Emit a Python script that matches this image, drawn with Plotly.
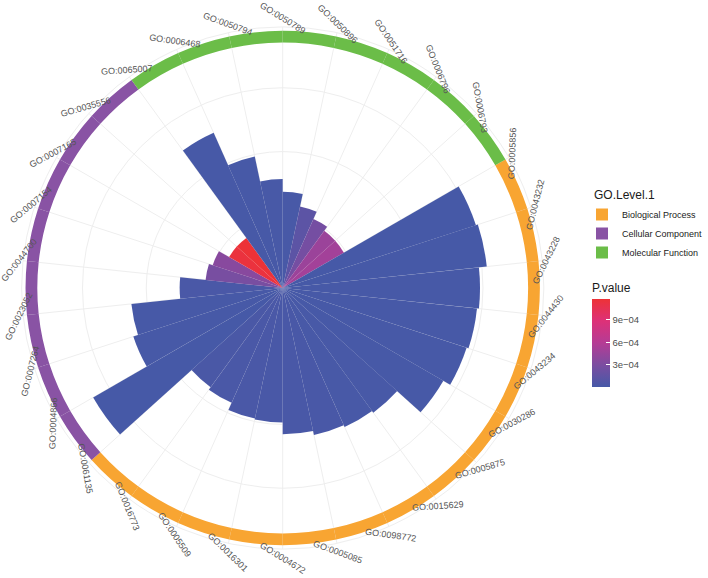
import math
import plotly.graph_objects as go

# GO terms around the circle, clockwise from 12 o'clock
go_terms = ["GO:0050789", "GO:0050896", "GO:0051716", "GO:0006796", "GO:0006793",
            "GO:0005856", "GO:0043232", "GO:0043228", "GO:0044430", "GO:0043234",
            "GO:0030286", "GO:0005875", "GO:0015629", "GO:0098772", "GO:0005085",
            "GO:0004672", "GO:0016301", "GO:0005509", "GO:0016773", "GO:0061135",
            "GO:0004866", "GO:0007264", "GO:0023052", "GO:0044700", "GO:0007154",
            "GO:0007165", "GO:0035556", "GO:0065007", "GO:0006468", "GO:0050794"]

go_level = (["Molecular Function"] * 5 + ["Biological Process"] * 14
            + ["Cellular Component"] * 8 + ["Molecular Function"] * 3)

bar_len = [98, 85, 77, 72, 72, 207, 209, 201, 199, 197,
           189, 157, 155, 153, 149, 137, 136, 128, 125, 223,
           160, 155, 105, 79, 75, 63, 63, 173, 137, 111]

p_value = [1.0e-5, 1.2e-4, 2.6e-4, 4.6e-4, 5.0e-4, 2.0e-6, 1.0e-6, 3.0e-6, 4.0e-6, 5.0e-6,
           8.0e-6, 1.0e-5, 1.2e-5, 1.5e-5, 1.6e-5, 1.8e-5, 2.0e-5, 2.2e-5, 2.5e-5, 1.0e-6,
           3.0e-6, 6.0e-6, 2.0e-5, 2.8e-4, 3.6e-4, 1.15e-3, 1.18e-3, 4.0e-6, 8.0e-6, 1.2e-5]

levels = ["Biological Process", "Cellular Component", "Molecular Function"]
level_colors = {"Biological Process": "#F8A532",
                "Cellular Component": "#8953A4",
                "Molecular Function": "#6BBD48"}

p_ticks = [3e-4, 6e-4, 9e-4]
p_ticktext = ["3e\u221204", "6e\u221204", "9e\u221204"]

# geometry of the polar panel (pixels in a 708x578 page)
W, H = 708, 578
CX, CY, R_OUT = 288, 288, 266
STEP = 360 / len(go_terms)
RING_BASE, RING_W = 250, 12
R_LABEL = 270

thetas = [STEP * i + STEP / 2 for i in range(len(go_terms))]

fig = go.Figure()

fig.add_trace(go.Barpolar(
    r=bar_len, theta=thetas, width=[STEP] * len(go_terms),
    marker=dict(color=p_value, cmin=0, cmax=1.18e-3,
                colorscale=[[0, "#4659A7"], [0.25, "#7B4DA1"], [0.5, "#B53C95"],
                            [0.75, "#DD3178"], [1, "#ED3237"]],
                line=dict(width=0),
                colorbar=dict(title=dict(text="P.value", side="top",
                                         font=dict(size=12, color="#1a1a1a")),
                              tickvals=p_ticks, ticktext=p_ticktext,
                              ticks="inside", tickcolor="white", ticklen=4,
                              tickfont=dict(size=9.5, color="#4d4d4d"),
                              outlinewidth=0, thickness=18,
                              lenmode="pixels", len=107,
                              x=603 / W, xanchor="left", xpad=0,
                              y=1 - 387 / H, yanchor="bottom", ypad=0)),
    text=go_terms, hovertemplate="%{text}<br>P=%{marker.color:.2e}<extra></extra>",
    showlegend=False))

for lv in levels:
    idx = [i for i, g in enumerate(go_level) if g == lv]
    fig.add_trace(go.Barpolar(
        r=[RING_W] * len(idx), base=[RING_BASE] * len(idx),
        theta=[thetas[i] for i in idx], width=[STEP] * len(idx),
        marker=dict(color=level_colors[lv], line=dict(width=0)),
        name=lv, legendgroup=lv,
        text=[go_terms[i] for i in idx], hovertemplate="%{text}<extra>" + lv + "</extra>"))

# rotated term labels around the rim
annotations = []
for i, term in enumerate(go_terms):
    th = STEP * i
    ccw = 148 - th
    while ccw < -90:
        ccw += 180
    while ccw >= 90:
        ccw -= 180
    xp = CX + R_LABEL * math.sin(math.radians(th))
    yp = CY - R_LABEL * math.cos(math.radians(th))
    annotations.append(dict(x=xp / W, y=1 - yp / H, xref="paper", yref="paper",
                            xanchor="center", yanchor="middle",
                            text=term, showarrow=False, textangle=-ccw,
                            font=dict(size=9, color="#555555")))

# legend title, aligned with the key boxes
annotations.append(dict(x=603 / W, y=1 - 195 / H, xref="paper", yref="paper",
                        xanchor="left", yanchor="middle", showarrow=False,
                        text="GO.Level.1", font=dict(size=12, color="#1a1a1a")))

fig.update_layout(
    width=W, height=H,
    margin=dict(l=0, r=0, t=0, b=0),
    paper_bgcolor="white",
    font=dict(family="Liberation Sans, Arial, sans-serif"),
    annotations=annotations,
    polar=dict(
        domain=dict(x=[(CX - R_OUT) / W, (CX + R_OUT) / W],
                    y=[1 - (CY + R_OUT) / H, 1 - (CY - R_OUT) / H]),
        bgcolor="white",
        radialaxis=dict(range=[0, R_OUT], tickvals=[74, 139, 204], showticklabels=False,
                        ticks="", showline=False, gridcolor="#eeeeee", gridwidth=1),
        angularaxis=dict(direction="clockwise", rotation=90, thetaunit="degrees",
                         tickvals=[STEP * i for i in range(len(go_terms))],
                         showticklabels=False, ticks="", gridcolor="#eeeeee",
                         showline=True, linecolor="#eeeeee", linewidth=1),
    ),
    legend=dict(x=593 / W, xanchor="left", y=1 - 200 / H, yanchor="top",
                font=dict(size=9, color="#1a1a1a"), tracegroupgap=0,
                itemwidth=30, bgcolor="rgba(0,0,0,0)"),
)

# drop the browser's default 8px body margin so the figure sits at the page corner
fig.write_html("out.html", config={"displayModeBar": False},
               post_script="document.body.style.margin = '0';")
